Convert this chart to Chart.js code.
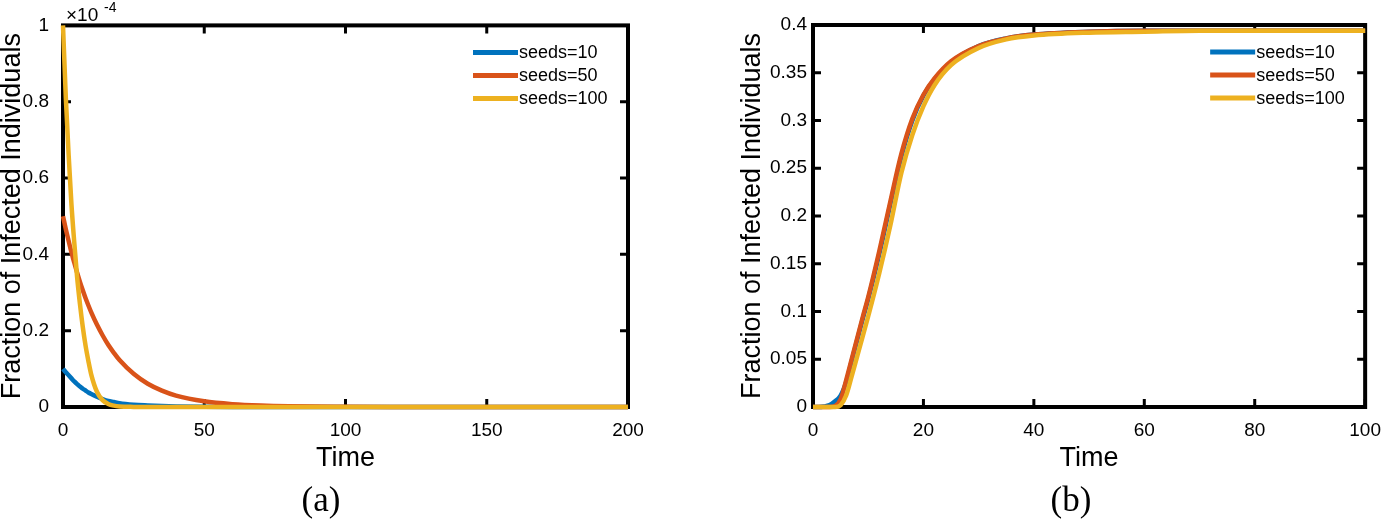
<!DOCTYPE html>
<html lang="en">
<head>
  <meta charset="UTF-8">
  <title>Fraction of Infected Individuals</title>
  <script src="https://cdn.jsdelivr.net/npm/chart.js"></script>
  <style>
    body {
      margin: 0;
      width: 1393px;
      height: 524px;
      background: #fff;
      position: relative;
      overflow: hidden;
      font-family: 'Liberation Sans', Arial, sans-serif;
    }
    canvas { position: absolute; top: 0; }
    #left { left: 0; }
    #right { left: 740px; }
    .sub {
      position: absolute;
      top: 480px;
      font-family: 'Liberation Serif', 'DejaVu Serif', serif;
      font-size: 35px;
      color: #000;
      transform: translateX(-50%);
    }
  </style>
</head>
<body>
  <canvas id="left" width="660" height="524"></canvas>
  <canvas id="right" width="653" height="524"></canvas>
  <div class="sub" style="left: 321px;">(a)</div>
  <div class="sub" style="left: 1071px;">(b)</div>

  <script>
    const seriesNames = ["seeds=10", "seeds=50", "seeds=100"];
    const seriesColors = ["#0072BD", "#D95319", "#EDB120"];

    // panel (a): values are in units of 1e-4
    const timeA = [0, 1, 2, 3, 4, 5, 6, 7, 8, 9, 10, 12, 14, 16, 18, 20, 25, 30, 35, 40, 50, 60, 70, 80, 100, 120, 150, 200];
    const seeds10A = [0.1, 0.091, 0.083, 0.075, 0.067, 0.06, 0.054, 0.048, 0.043, 0.038, 0.034, 0.027, 0.021, 0.016, 0.013, 0.01, 0.006, 0.004, 0.0025, 0.0015, 0.0006, 0.0002, 0.0001, 0, 0, 0, 0, 0];
    const seeds50A = [0.5, 0.466, 0.435, 0.405, 0.378, 0.352, 0.328, 0.306, 0.285, 0.266, 0.248, 0.216, 0.188, 0.163, 0.142, 0.123, 0.087, 0.061, 0.043, 0.03, 0.015, 0.0075, 0.0037, 0.0018, 0.0005, 0.0001, 0, 0];
    const seeds100A = [1.0, 0.81, 0.66, 0.53, 0.43, 0.34, 0.27, 0.21, 0.16, 0.12, 0.085, 0.04, 0.018, 0.008, 0.0035, 0.0015, 0.0003, 0, 0, 0, 0, 0, 0, 0, 0, 0, 0, 0];

    // panel (b)
    const timeB = [0, 1, 2, 3, 4, 5, 6, 7, 8, 9, 10, 12, 14, 16, 18, 20, 22, 25, 30, 35, 40, 50, 60, 70, 80, 90, 100];
    const seeds10B = [0, 0, 0.0005, 0.002, 0.006, 0.012, 0.026, 0.048, 0.07, 0.092, 0.113, 0.16, 0.212, 0.262, 0.3, 0.326, 0.343, 0.361, 0.378, 0.386, 0.39, 0.393, 0.394, 0.394, 0.394, 0.394, 0.394];
    const seeds50B = [0, 0, 0, 0, 0.001, 0.008, 0.028, 0.05, 0.072, 0.094, 0.115, 0.163, 0.215, 0.265, 0.302, 0.327, 0.344, 0.362, 0.378, 0.386, 0.39, 0.393, 0.394, 0.394, 0.394, 0.394, 0.394];
    const seeds100B = [0, 0, 0, 0, 0, 0.002, 0.012, 0.032, 0.053, 0.074, 0.095, 0.14, 0.19, 0.245, 0.285, 0.315, 0.337, 0.358, 0.376, 0.385, 0.389, 0.392, 0.393, 0.394, 0.394, 0.394, 0.394];

    Chart.defaults.font.family = "'Liberation Sans', Arial, sans-serif";
    Chart.defaults.color = "#000";

    // matlab style box with inward ticks on all sides
    const framePlugin = {
      id: "frame",
      beforeDatasetsDraw(chart) {
        const { ctx, chartArea: a, scales } = chart;
        const len = 8;
        ctx.save();
        ctx.strokeStyle = "#000";
        ctx.lineWidth = 3;
        ctx.beginPath();
        scales.x.ticks.forEach(t => {
          const px = scales.x.getPixelForValue(t.value);
          ctx.moveTo(px, a.bottom); ctx.lineTo(px, a.bottom - len);
          ctx.moveTo(px, a.top); ctx.lineTo(px, a.top + len);
        });
        scales.y.ticks.forEach(t => {
          const py = scales.y.getPixelForValue(t.value);
          ctx.moveTo(a.left, py); ctx.lineTo(a.left + len, py);
          ctx.moveTo(a.right, py); ctx.lineTo(a.right - len, py);
        });
        ctx.stroke();
        ctx.lineWidth = 4;
        ctx.strokeRect(a.left, a.top, a.right - a.left, a.bottom - a.top);
        ctx.restore();
      },
      afterDatasetsDraw(chart, args, opts) {
        const { ctx, chartArea: a } = chart;
        ctx.save();
        // legend inside, top right, no box
        const x0 = a.right - 155;
        chart.data.datasets.forEach((ds, i) => {
          const y = a.top + 27 + i * 23;
          ctx.strokeStyle = ds.borderColor;
          ctx.lineWidth = 5;
          ctx.beginPath();
          ctx.moveTo(x0, y);
          ctx.lineTo(x0 + 45, y);
          ctx.stroke();
          ctx.fillStyle = "#000";
          ctx.font = "18px 'Liberation Sans', Arial, sans-serif";
          ctx.textBaseline = "middle";
          ctx.fillText(ds.label, x0 + 46, y + 1);
        });
        if (opts.exponent) {
          ctx.fillStyle = "#000";
          ctx.textBaseline = "alphabetic";
          ctx.font = "19px 'Liberation Sans', Arial, sans-serif";
          ctx.fillText("\u00d710", a.left + 3, a.top - 4);
          ctx.font = "14px 'Liberation Sans', Arial, sans-serif";
          ctx.fillText(opts.exponent, a.left + 41, a.top - 13);
        }
        ctx.restore();
      }
    };

    function makeDatasets(xs, ys) {
      return ys.map((vals, i) => ({
        label: seriesNames[i],
        data: xs.map((x, j) => ({ x, y: vals[j] })),
        borderColor: seriesColors[i],
        borderWidth: 4.5,
        pointRadius: 0,
        cubicInterpolationMode: "monotone",
        clip: false,
        order: 3 - i
      }));
    }

    const fmt = v => String(+v.toFixed(4));

    function makeChart(id, xs, ys, xMax, xStep, yMax, yStep, yWidth, padRight, tickPad, exponent) {
      return new Chart(document.getElementById(id), {
        type: "line",
        data: { datasets: makeDatasets(xs, ys) },
        plugins: [framePlugin],
        options: {
          responsive: false,
          animation: false,
          layout: { padding: { top: 25, right: padRight, bottom: 49, left: 0 } },
          plugins: {
            legend: { display: false },
            tooltip: { enabled: false },
            frame: { exponent }
          },
          scales: {
            x: {
              type: "linear",
              min: 0, max: xMax,
              grid: { display: false, drawTicks: false },
              border: { display: false },
              ticks: { stepSize: xStep, padding: 12, font: { size: 19 }, maxRotation: 0, callback: fmt },
              title: { display: true, text: "Time", font: { size: 27 }, padding: 0 },
              afterFit(s) { s.height = 68; }
            },
            y: {
              min: 0, max: yMax,
              grid: { display: false, drawTicks: false },
              border: { display: false },
              ticks: { stepSize: yStep, padding: tickPad, font: { size: 19 }, callback: fmt },
              title: { display: true, text: "Fraction of Infected Individuals", font: { size: 27, lineHeight: 0.9 }, padding: 0 },
              afterFit(s) { s.width = yWidth; }
            }
          }
        }
      });
    }

    makeChart("left", timeA, [seeds10A, seeds50A, seeds100A], 200, 50, 1, 0.2, 63, 32, 14, "-4");
    makeChart("right", timeB, [seeds10B, seeds50B, seeds100B], 100, 20, 0.4, 0.05, 73, 15, 6, null);
  </script>
</body>
</html>
